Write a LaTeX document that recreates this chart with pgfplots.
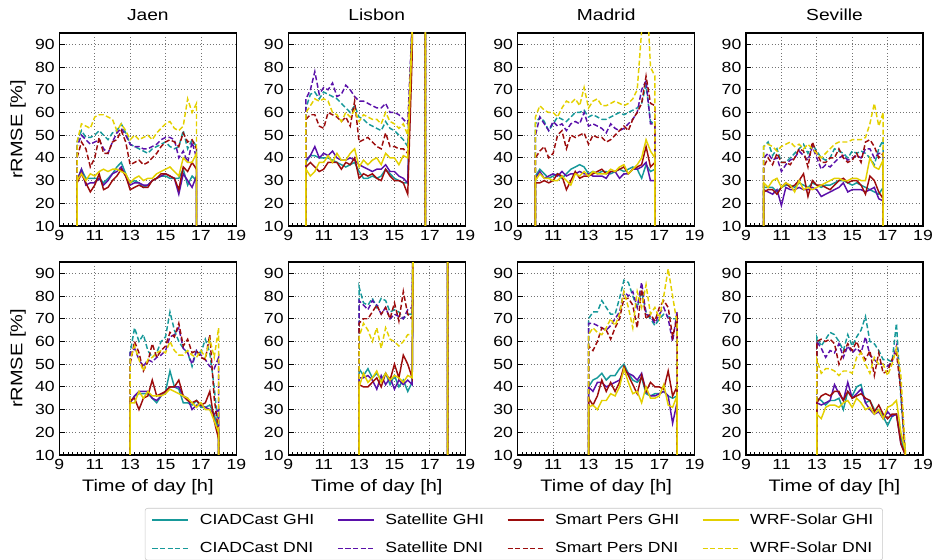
\documentclass[border=0pt]{standalone}
\usepackage{fontspec}
\setmainfont{Liberation Sans}[FakeStretch=1.2]
\usepackage{pgfplots}
\usepackage{pgfplotstable}
\pgfplotsset{compat=1.18}

\definecolor{cteal}{HTML}{17999A}
\definecolor{cpurp}{HTML}{5A10AA}
\definecolor{cred}{HTML}{9C0C0C}
\definecolor{cyel}{HTML}{E3D000}

\tikzset{
  sCG/.style={cteal, line width=1.1pt},
  sCD/.style={cteal, line width=1.1pt, dash pattern=on 3.8pt off 1.9pt},
  sSG/.style={cpurp, line width=1.1pt},
  sSD/.style={cpurp, line width=1.1pt, dash pattern=on 3.8pt off 1.9pt},
  sPG/.style={cred, line width=1.1pt},
  sPD/.style={cred, line width=1.1pt, dash pattern=on 3.8pt off 1.9pt},
  sWG/.style={cyel, line width=1.1pt},
  sWD/.style={cyel, line width=1.1pt, dash pattern=on 3.8pt off 1.9pt},
}

\pgfplotsset{
  panel/.style={
    scale only axis, width=132.75pt, height=144.75pt, anchor=north west,
    xmin=9, xmax=19, ymin=10, ymax=95,
    xtick={9,11,...,19}, ytick={10,20,...,90},
    minor x tick num=7, tick pos=left, tick align=inside,
    grid=major, major grid style={dotted, black!55, line width=0.6pt},
    axis line style={line width=0.9pt},
    major tick length=4pt, minor tick length=2.2pt,
    every tick/.style={black, line width=0.6pt},
    tick label style={font=\fontsize{11}{13}\selectfont},
    title style={font=\fontsize{12}{14}\selectfont},
    label style={font=\fontsize{12.5}{14}\selectfont},
    /pgf/number format/assume math mode=true,
  }
}

\newcommand{\allseries}[1]{%
  \addplot[sCG] table[x=t,y=cg]{#1};
  \addplot[sCD] table[x=t,y=cd]{#1};
  \addplot[sSG] table[x=t,y=sg]{#1};
  \addplot[sSD] table[x=t,y=sd]{#1};
  \addplot[sPG] table[x=t,y=pg]{#1};
  \addplot[sPD] table[x=t,y=pd]{#1};
  \addplot[sWG] table[x=t,y=wg]{#1};
  \addplot[sWD] table[x=t,y=wd]{#1};
}

\pgfplotstableread{
t cg sg pg wg cd sd pd wd
10.00 0 0 0 0 0 0 0 0
10.00 30 30 29 30 47 45 40 47
10.25 35 35 33 33 52 50 47 55
10.50 31 28 29 30 49 48 44 54
10.75 31 29 25 33 49 46 36 53
11.00 31 29 28 32 50 47 40 58
11.25 31 31 33 34 52 48 49 59
11.50 29 28 26 35 50 44 42 59
11.75 31 30 27 34 48 42 42 58
12.00 33 33 30 35 51 47 47 57
12.25 36 34 32 35 52 51 48 52
12.50 38 36 35 34 55 53 52 55
12.75 33 32 32 33 51 50 47 52
13.00 29 28 26 29 46 46 37 48
13.25 30 29 27 31 45 45 38 50
13.50 29 29 28 32 44 45 39 48
13.75 27 28 27 30 43 44 37 49
14.00 28 28 27 31 42 44 38 50
14.25 30 30 30 31 44 45 40 48
14.50 31 31 31 33 45 46 42 51
14.75 32 32 33 34 46 48 45 53
15.00 32 33 33 35 47 49 47 55
15.25 31 32 32 36 45 49 48 56
15.50 31 31 31 34 44 48 47 53
15.75 31 24 26 32 45 40 45 52
16.00 35 33 36 40 52 43 51 54
16.25 28 30 34 38 44 38 47 66
16.50 32 27 38 38 48 47 48 60
16.75 30 32 35 42 45 40 44 64
16.75 0 0 0 0 0 0 0 0
}\JaenTop

\pgfplotstableread{
t cg sg pg wg cd sd pd wd
10.00 0 0 0 0 0 0 0 0
10.00 38 39 36 35 62 66 57 60
10.25 41 41 38 32 68 70 59 63
10.50 41 45 36 34 69 78 59 66
10.75 40 40 34 38 66 68 54 65
11.00 40 42 35 38 69 71 53 66
11.25 40 41 38 41 68 70 60 65
11.50 39 43 38 38 67 73 59 60
11.75 38 40 38 42 66 67 58 59
12.00 37 39 35 39 64 68 56 56
12.25 36 39 38 39 62 72 58 60
12.50 37 40 37 42 60 70 54 58
12.75 38 39 40 44 63 67 65 61
13.00 34 37 31 36 58 65 47 56
13.25 31 36 33 39 57 65 48 59
13.50 31 35 32 37 55 64 49 58
13.75 32 34 33 39 54 63 47 57
14.00 31 35 31 40 53 62 45 57
14.25 32 35 30 37 52 62 44 55
14.50 35 37 35 42 56 64 51 60
14.75 33 34 32 40 53 60 45 56
15.00 31 34 30 40 52 60 45 55
15.25 30 32 30 37 50 59 44 53
15.50 29 31 29 41 48 57 44 55
15.75 29 29 24 40 45 55 42 50
16.00 95 100 85 95 100 100 98 95
16.25 300 300 300 300 300 300 300 300
16.50 300 300 300 300 300 300 300 300
16.75 300 300 300 300 300 300 300 300
16.75 0 0 0 0 0 0 0 0
}\LisbonTop

\pgfplotstableread{
t cg sg pg wg cd sd pd wd
10.00 0 0 0 0 0 0 0 0
10.00 32 31 29 30 55 50 40 58
10.25 35 34 29 33 58 58 43 63
10.50 33 31 30 31 56 55 45 61
10.75 31 32 29 31 52 52 40 60
11.00 32 33 30 30 55 56 42 60
11.25 33 32 33 30 58 54 50 58
11.50 31 34 32 32 57 55 52 62
11.75 33 32 26 30 56 52 44 65
12.00 35 33 30 28 58 55 50 64
12.25 36 33 34 33 60 56 49 66
12.50 37 34 31 32 60 55 50 63
12.75 36 33 32 34 61 60 51 71
13.00 33 33 32 32 58 54 46 62
13.25 34 32 33 34 59 55 50 65
13.50 33 32 34 33 58 54 49 66
13.75 34 32 35 33 57 53 49 63
14.00 34 31 33 33 57 51 47 63
14.25 33 34 34 35 58 55 48 64
14.50 34 34 34 34 59 53 50 65
14.75 35 31 35 36 60 52 52 64
15.00 34 33 36 37 59 53 54 63
15.25 35 33 33 33 60 55 52 64
15.50 36 35 35 35 61 57 57 66
15.75 35 35 36 37 62 60 60 70
16.00 31 36 37 40 64 70 64 96
16.25 37 38 45 48 72 74 76 120
16.50 34 30 36 43 56 55 64 80
16.75 35 30 38 40 55 55 63 76
16.75 0 0 0 0 0 0 0 0
}\MadridTop

\pgfplotstableread{
t cg sg pg wg cd sd pd wd
10.00 0 0 0 0 0 0 0 0
10.00 27 26 25 29 45 40 36 45
10.25 27 25 26 27 47 42 40 46
10.50 27 24 26 30 41 39 37 45
10.75 25 26 24 31 44 40 42 43
11.00 27 19 27 27 38 34 38 45
11.25 28 27 29 29 38 37 38 46
11.50 28 26 27 28 40 39 37 47
11.75 27 26 28 25 42 40 40 45
12.00 29 27 30 30 44 43 44 46
12.25 28 26 33 26 46 41 43 44
12.50 27 26 23 27 42 39 36 46
12.75 29 27 30 26 46 45 47 44
13.00 28 26 28 27 43 40 42 42
13.25 27 23 28 28 40 35 38 40
13.50 28 24 27 29 39 37 38 42
13.75 28 25 26 30 40 36 40 44
14.00 29 26 28 31 44 38 40 46
14.25 30 27 30 31 43 40 44 47
14.50 30 29 31 30 42 41 40 47
14.75 29 25 29 30 40 39 38 47
15.00 28 26 30 31 43 40 39 48
15.25 29 26 30 31 42 41 42 48
15.50 28 26 28 30 43 40 38 48
15.75 27 25 24 30 42 44 47 49
16.00 26 26 32 40 40 44 48 55
16.25 25 27 30 36 37 40 45 64
16.50 24 22 25 35 44 42 40 54
16.75 27 21 22 39 48 42 42 60
16.75 0 0 0 0 0 0 0 0
}\SevilleTop

\pgfplotstableread{
t cg sg pg wg cd sd pd wd
13.00 0 0 0 0 0 0 0 0
13.00 33 33 34 33 55 55 50 52
13.25 36 36 35 33 66 57 60 58
13.50 37 38 30 38 60 52 55 52
13.75 37 38 35 35 63 49 47 47
14.00 37 38 36 38 56 52 51 52
14.25 35 35 43 36 53 51 59 53
14.50 33 34 36 36 55 53 53 55
14.75 36 36 37 36 60 54 56 56
15.00 38 38 38 37 62 56 58 55
15.25 47 40 40 39 73 62 64 60
15.50 40 40 40 38 65 63 62 56
15.75 39 40 43 37 60 66 68 54
16.00 33 36 36 36 57 57 58 54
16.25 33 35 34 35 55 55 61 56
16.50 32 30 33 33 49 50 55 54
16.75 34 32 34 31 56 56 56 53
17.00 31 32 32 33 55 54 53 56
17.25 31 31 33 30 61 52 52 53
17.50 32 30 38 30 55 49 63 61
17.75 28 28 25 25 40 48 35 53
18.00 20 30 17 20 20 53 20 66
18.00 0 0 0 0 0 0 0 0
}\JaenBot

\pgfplotstableread{
t cg sg pg wg cd sd pd wd
13.00 0 0 0 0 0 0 0 0
13.00 48 44 41 40 84 78 68 62
13.25 45 44 40 46 77 76 70 68
13.50 48 45 40 42 76 74 70 65
13.75 44 43 42 44 79 78 73 60
14.00 46 39 44 47 75 76 76 66
14.25 43 45 40 42 79 72 72 57
14.50 46 41 46 46 78 75 75 66
14.75 41 44 43 43 73 70 70 61
15.00 45 39 50 45 74 72 77 60
15.25 40 43 44 44 73 71 69 58
15.50 43 41 54 42 70 70 82 60
15.75 38 43 50 45 72 74 72 63
16.00 42 41 44 44 72 75 70 63
16.25 300 300 300 300 300 300 300 300
16.50 300 300 300 300 300 300 300 300
17.00 300 300 300 300 300 300 300 300
17.50 300 300 300 300 300 300 300 300
18.00 300 300 300 300 300 300 300 300
18.00 0 0 0 0 0 0 0 0
}\LisbonBot

\pgfplotstableread{
t cg sg pg wg cd sd pd wd
13.00 0 0 0 0 0 0 0 0
13.00 40 40 35 31 70 68 58 63
13.25 43 38 32 32 73 68 56 66
13.50 44 42 36 30 73 67 60 64
13.75 46 42 43 34 78 66 66 63
14.00 43 40 38 34 75 65 65 66
14.25 45 41 42 37 72 67 61 70
14.50 45 42 38 36 72 70 66 67
14.75 48 43 42 40 79 73 70 72
15.00 50 47 49 48 87 82 79 82
15.25 46 46 45 42 86 80 79 75
15.50 43 45 41 37 80 82 76 66
15.75 42 43 37 38 75 75 66 82
16.00 44 46 45 33 82 86 83 75
16.25 37 38 38 40 73 72 70 85
16.50 36 36 42 35 70 71 72 72
16.75 37 36 40 35 67 68 69 75
17.00 37 37 40 36 70 72 75 70
17.25 38 38 39 41 72 75 78 80
17.50 36 36 47 32 71 70 75 92
17.75 35 24 36 31 70 60 62 80
18.00 36 33 40 36 70 73 70 68
18.00 0 0 0 0 0 0 0 0
}\MadridBot

\pgfplotstableread{
t cg sg pg wg cd sd pd wd
13.00 0 0 0 0 0 0 0 0
13.00 35 33 33 28 62 60 60 52
13.25 34 32 36 26 58 57 61 46
13.50 32 33 37 31 61 53 60 48
13.75 34 34 36 32 64 56 61 48
14.00 34 41 38 32 63 55 59 47
14.25 35 37 38 31 60 59 50 45
14.50 30 34 34 33 56 53 55 47
14.75 38 42 38 34 63 58 59 47
15.00 36 35 35 31 58 55 56 46
15.25 40 37 36 35 62 57 60 53
15.50 41 39 37 33 65 55 55 55
15.75 33 33 35 30 71 62 52 50
16.00 34 30 34 31 60 54 56 46
16.25 30 28 29 28 59 52 45 53
16.50 30 29 32 30 56 50 55 50
16.75 27 26 28 26 52 50 46 50
17.00 23 29 26 31 52 49 47 45
17.25 27 27 28 32 51 51 52 50
17.50 28 28 28 34 68 58 55 57
17.75 18 15 15 20 35 40 38 45
18.00 10 10 10 12 10 10 10 12
18.00 0 0 0 0 0 0 0 0
}\SevilleBot

\begin{document}
\begin{tikzpicture}
\useasboundingbox (0pt,0pt) rectangle (702pt,-420pt);

% top row
\begin{axis}[panel, at={(44.5pt,-24.75pt)}, title={Jaen}, ylabel={rRMSE [\%]}]
\allseries{\JaenTop}
\end{axis}
\begin{axis}[panel, at={(216.2pt,-24.75pt)}, title={Lisbon}]
\allseries{\LisbonTop}
\end{axis}
\begin{axis}[panel, at={(388.3pt,-24.75pt)}, title={Madrid}]
\allseries{\MadridTop}
\end{axis}
\begin{axis}[panel, at={(559.5pt,-24.75pt)}, title={Seville}]
\allseries{\SevilleTop}
\end{axis}

% bottom row
\begin{axis}[panel, at={(44.5pt,-196.5pt)}, ylabel={rRMSE [\%]}, xlabel={Time of day [h]}]
\allseries{\JaenBot}
\end{axis}
\begin{axis}[panel, at={(216.2pt,-196.5pt)}, xlabel={Time of day [h]}]
\allseries{\LisbonBot}
\end{axis}
\begin{axis}[panel, at={(388.3pt,-196.5pt)}, xlabel={Time of day [h]}]
\allseries{\MadridBot}
\end{axis}
\begin{axis}[panel, at={(559.5pt,-196.5pt)}, xlabel={Time of day [h]}]
\allseries{\SevilleBot}
\end{axis}

% legend
\begin{axis}[at={(0pt,0pt)}, anchor=north west, scale only axis,
  width=702pt, height=420pt, hide axis, xmin=0, xmax=1, ymin=0, ymax=1,
  legend columns=4, legend cell align=left,
  legend image code/.code={\draw[#1, line width=1.2pt] (0pt,0pt) -- (27pt,0pt);},
  legend style={at={(0.549,0.0929)}, anchor=north, draw=black!22,
    rounded corners=2pt, fill=white, inner xsep=5pt,
    font=\fontsize{11}{13}\selectfont, row sep=8pt,
    /tikz/every even column/.append style={column sep=15pt},
    /tikz/every odd column/.append style={column sep=6pt}}]
\addlegendimage{sCG}\addlegendentry{CIADCast GHI}
\addlegendimage{sSG}\addlegendentry{Satellite GHI}
\addlegendimage{sPG}\addlegendentry{Smart Pers GHI}
\addlegendimage{sWG}\addlegendentry{WRF-Solar GHI}
\addlegendimage{sCD}\addlegendentry{CIADCast DNI}
\addlegendimage{sSD}\addlegendentry{Satellite DNI}
\addlegendimage{sPD}\addlegendentry{Smart Pers DNI}
\addlegendimage{sWD}\addlegendentry{WRF-Solar DNI}
\end{axis}
\end{tikzpicture}
\end{document}
